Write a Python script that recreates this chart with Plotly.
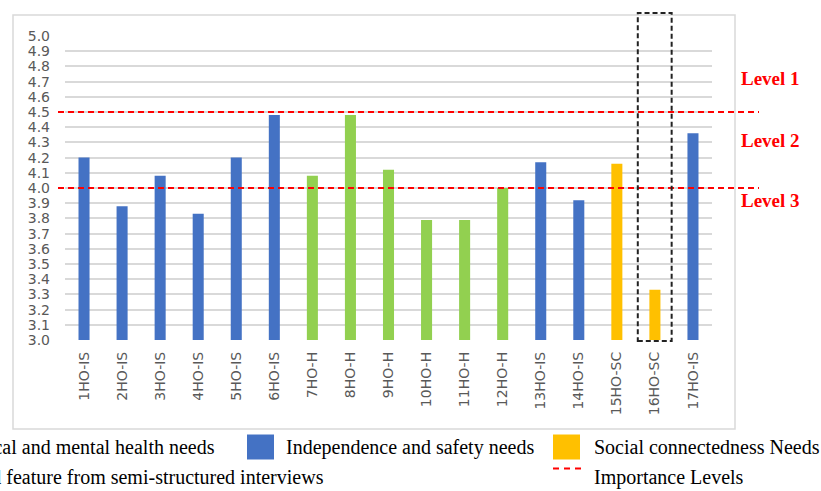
import plotly.graph_objects as go

# Needs items, their mean scores and their need group
categories = ["1HO-IS", "2HO-IS", "3HO-IS", "4HO-IS", "5HO-IS", "6HO-IS",
              "7HO-H", "8HO-H", "9HO-H", "10HO-H", "11HO-H", "12HO-H",
              "13HO-IS", "14HO-IS", "15HO-SC", "16HO-SC", "17HO-IS"]
scores = [4.20, 3.88, 4.08, 3.83, 4.20, 4.48,
          4.08, 4.48, 4.12, 3.79, 3.79, 4.00,
          4.17, 3.92, 4.16, 3.33, 4.36]
groups = ["IS", "IS", "IS", "IS", "IS", "IS",
          "H", "H", "H", "H", "H", "H",
          "IS", "IS", "SC", "SC", "IS"]

group_names = {
    "H": "Physical and mental health needs",
    "IS": "Independence and safety needs",
    "SC": "Social connectedness Needs",
}
group_colors = {"H": "#92D050", "IS": "#4472C4", "SC": "#FFC000"}

# Importance thresholds and their level labels
thresholds = [4.5, 4.0]
level_labels = ["Level 1", "Level 2", "Level 3"]
level_label_y = [4.72, 4.315, 3.92]

# Item taken from the semi-structured interviews
highlighted = "16HO-SC"

W, H = 821, 491
L, R, T, B = 65, 712, 36, 340   # plot area in pixels


def px_x(px):
    return (px - L) / (R - L)


def px_y(py):
    return (B - py) / (B - T)


fig = go.Figure()
fig.add_trace(go.Bar(
    x=categories,
    y=scores,
    width=0.29,
    marker=dict(color=[group_colors[g] for g in groups], line=dict(width=0)),
    showlegend=False,
    hovertext=[group_names[g] for g in groups],
))

shapes = []
# outer chart border
shapes.append(dict(type="rect", xref="paper", yref="paper",
                   x0=px_x(13), x1=px_x(735), y0=px_y(429), y1=px_y(15),
                   line=dict(color="#D9D9D9", width=1.5), layer="below"))
# importance level lines
for t in thresholds:
    shapes.append(dict(type="line", xref="paper", yref="y",
                       x0=px_x(58), x1=px_x(759), y0=t, y1=t,
                       line=dict(color="#FF0000", width=2, dash="6px,4px")))
# dashed box around the highlighted item
hi = categories.index(highlighted)
shapes.append(dict(type="rect", xref="x", yref="paper",
                   x0=hi - 0.45, x1=hi + 0.44, y0=px_y(341), y1=px_y(13),
                   line=dict(color="#222222", width=2, dash="5px,3px")))

# legend squares
legend_sq = [("IS", 247), ("SC", 553)]
for g, x0 in legend_sq:
    shapes.append(dict(type="rect", xref="paper", yref="paper",
                       x0=px_x(x0), x1=px_x(x0 + 27), y0=px_y(459.5), y1=px_y(434.5),
                       fillcolor=group_colors[g], line=dict(width=0)))
# legend dashed line sample
shapes.append(dict(type="line", xref="paper", yref="paper",
                   x0=px_x(553), x1=px_x(581), y0=px_y(468.5), y1=px_y(468.5),
                   line=dict(color="#FF0000", width=2, dash="6px,5px")))

annotations = []
for lab, yv in zip(level_labels, level_label_y):
    annotations.append(dict(text=lab, xref="paper", yref="y", x=px_x(739), y=yv,
                            xanchor="left", yanchor="middle", showarrow=False,
                            font=dict(family="Liberation Serif", size=19, color="#FF0000",
                                      weight="bold")))

legend_font = dict(family="Liberation Serif", size=20, color="#000000")
legend_items = [
    (group_names["H"], 217, 447, "right"),
    (group_names["IS"], 284, 447, "left"),
    (group_names["SC"], 592, 447, "left"),
    ("Added feature from semi-structured interviews", 326, 477, "right"),
    ("Importance Levels", 592, 477, "left"),
]
for text, xp, yp, anchor in legend_items:
    annotations.append(dict(text=text, xref="paper", yref="paper", x=px_x(xp), y=px_y(yp),
                            xanchor=anchor, yanchor="middle", showarrow=False,
                            font=legend_font))

fig.update_layout(
    width=W, height=H,
    margin=dict(l=L, r=W - R, t=T, b=H - B, pad=0),
    paper_bgcolor="white",
    plot_bgcolor="white",
    bargap=0.7,
    shapes=shapes,
    annotations=annotations,
    font=dict(family="DejaVu Sans", color="#595959"),
)
fig.update_xaxes(
    type="category",
    tickangle=-90,
    tickfont=dict(family="DejaVu Sans", size=14, color="#595959"),
    showgrid=False, showline=False, ticks="",
    ticklabelstandoff=8,
)
fig.update_yaxes(
    range=[3, 5], dtick=0.1, tick0=3, tickformat=".1f",
    showgrid=True, gridcolor="#D9D9D9", gridwidth=1.5,
    zeroline=False, showline=False, ticks="",
    tickfont=dict(family="DejaVu Sans", size=14, color="#595959"),
    ticklabelstandoff=14,
)

fig.write_html("out.html")
